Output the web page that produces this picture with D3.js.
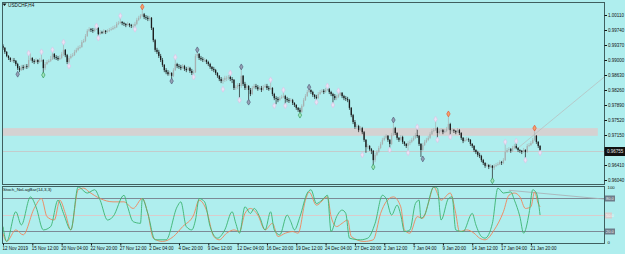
<!DOCTYPE html>
<html>
<head>
<meta charset="utf-8">
<script src="https://cdn.jsdelivr.net/npm/d3@7"></script>
<style>
  html, body { margin: 0; padding: 0; background: #afeeee; overflow: hidden; }
  svg { display: block; }
</style>
</head>
<body>
<svg id="chart"></svg>
<script>
/* ── Data: USDCHF H4, 12 Nov 2019 20:00 → 22 Jan 2020 16:00 (open = previous close) ── */
const firstOpen = 0.9935;
const closes = [
  0.9930,0.9920,0.9910,0.9905,0.9900,0.9900,0.9898,0.9890,0.9880,0.9875,
  0.9883,0.9880,0.9885,0.9883,0.9900,0.9905,0.9898,0.9895,0.9900,0.9895,
  0.9898,0.9900,0.9880,0.9890,0.9895,0.9898,0.9902,0.9915,0.9907,0.9905,
  0.9902,0.9905,0.9915,0.9925,0.9912,0.9895,0.9905,0.9910,0.9912,0.9920,
  0.9925,0.9930,0.9932,0.9944,0.9947,0.9959,0.9972,0.9976,0.9974,0.9972,
  0.9976,0.9979,0.9964,0.9969,0.9967,0.9972,0.9969,0.9972,0.9974,0.9976,
  0.9979,0.9981,0.9989,0.9991,0.9994,0.9991,0.9989,0.9986,0.9989,0.9986,
  0.9984,0.9984,0.9989,0.9999,1.0004,1.0009,1.0013,1.0006,1.0004,1.0001,
  1.0004,0.9979,0.9949,0.9925,0.9920,0.9910,0.9900,0.9888,0.9875,0.9870,
  0.9865,0.9868,0.9861,0.9875,0.9890,0.9885,0.9883,0.9880,0.9885,0.9878,
  0.9875,0.9880,0.9873,0.9868,0.9870,0.9910,0.9915,0.9905,0.9902,0.9900,
  0.9900,0.9895,0.9890,0.9883,0.9878,0.9875,0.9868,0.9861,0.9853,0.9848,
  0.9851,0.9856,0.9856,0.9858,0.9853,0.9851,0.9831,0.9833,0.9838,0.9836,
  0.9861,0.9841,0.9831,0.9836,0.9826,0.9816,0.9831,0.9836,0.9833,0.9828,
  0.9831,0.9826,0.9833,0.9836,0.9831,0.9828,0.9831,0.9816,0.9806,0.9804,
  0.9801,0.9806,0.9809,0.9811,0.9804,0.9801,0.9799,0.9801,0.9794,0.9789,
  0.9782,0.9777,0.9772,0.9787,0.9801,0.9811,0.9821,0.9826,0.9821,0.9814,
  0.9809,0.9806,0.9816,0.9821,0.9824,0.9821,0.9826,0.9828,0.9821,0.9816,
  0.9811,0.9806,0.9809,0.9814,0.9819,0.9811,0.9806,0.9804,0.9801,0.9782,
  0.9764,0.9747,0.9735,0.9737,0.9727,0.9732,0.9722,0.9703,0.9685,0.9688,
  0.9680,0.9676,0.9653,0.9666,0.9673,0.9683,0.9693,0.9703,0.9708,0.9713,
  0.9703,0.9693,0.9715,0.9732,0.9720,0.9708,0.9703,0.9710,0.9698,0.9693,
  0.9688,0.9695,0.9698,0.9703,0.9708,0.9715,0.9713,0.9693,0.9678,0.9690,
  0.9698,0.9703,0.9708,0.9717,0.9725,0.9727,0.9732,0.9720,0.9725,0.9727,
  0.9722,0.9725,0.9730,0.9742,0.9727,0.9727,0.9725,0.9722,0.9727,0.9720,
  0.9708,0.9700,0.9703,0.9705,0.9703,0.9693,0.9688,0.9678,0.9673,0.9666,
  0.9663,0.9653,0.9646,0.9639,0.9641,0.9636,0.9639,0.9634,0.9639,0.9641,
  0.9643,0.9648,0.9646,0.9653,0.9673,0.9678,0.9680,0.9676,0.9683,0.9688,
  0.9683,0.9678,0.9676,0.9673,0.9678,0.9673,0.9688,0.9690,0.9695,0.9703,
  0.9713,0.9698,0.9688,0.9676
];
const highs = [
  0.9939,0.9932,0.9922,0.9912,0.9907,0.9905,0.9905,0.9900,0.9893,0.9885,
  0.9888,0.9888,0.9890,0.9890,0.9912,0.9917,0.9907,0.9902,0.9905,0.9902,
  0.9905,0.9915,0.9902,0.9895,0.9900,0.9902,0.9910,0.9920,0.9917,0.9912,
  0.9910,0.9912,0.9920,0.9939,0.9927,0.9915,0.9910,0.9915,0.9917,0.9925,
  0.9930,0.9935,0.9937,0.9949,0.9952,0.9964,0.9976,0.9981,0.9979,0.9979,
  0.9979,0.9981,0.9981,0.9974,0.9972,0.9976,0.9974,0.9976,0.9979,0.9981,
  0.9984,0.9986,0.9994,0.9996,1.0004,0.9996,0.9994,0.9991,0.9994,0.9991,
  0.9989,0.9989,0.9994,1.0004,1.0009,1.0013,1.0026,1.0016,1.0011,1.0009,
  1.0009,1.0006,0.9981,0.9952,0.9930,0.9925,0.9915,0.9905,0.9890,0.9880,
  0.9875,0.9873,0.9870,0.9880,0.9902,0.9893,0.9890,0.9888,0.9890,0.9888,
  0.9883,0.9885,0.9883,0.9878,0.9875,0.9915,0.9920,0.9917,0.9910,0.9907,
  0.9905,0.9902,0.9898,0.9893,0.9885,0.9883,0.9878,0.9870,0.9863,0.9858,
  0.9856,0.9861,0.9861,0.9863,0.9863,0.9858,0.9853,0.9838,0.9843,0.9843,
  0.9878,0.9863,0.9846,0.9841,0.9838,0.9831,0.9836,0.9841,0.9841,0.9838,
  0.9836,0.9836,0.9838,0.9841,0.9841,0.9836,0.9846,0.9833,0.9819,0.9811,
  0.9809,0.9811,0.9814,0.9821,0.9814,0.9809,0.9806,0.9806,0.9804,0.9796,
  0.9791,0.9784,0.9782,0.9791,0.9806,0.9816,0.9826,0.9828,0.9828,0.9824,
  0.9816,0.9814,0.9821,0.9826,0.9828,0.9828,0.9831,0.9831,0.9831,0.9824,
  0.9819,0.9816,0.9814,0.9819,0.9821,0.9821,0.9814,0.9811,0.9809,0.9804,
  0.9784,0.9767,0.9752,0.9742,0.9740,0.9737,0.9735,0.9725,0.9705,0.9693,
  0.9690,0.9683,0.9678,0.9671,0.9678,0.9688,0.9698,0.9708,0.9713,0.9717,
  0.9715,0.9705,0.9720,0.9747,0.9735,0.9722,0.9710,0.9715,0.9713,0.9700,
  0.9695,0.9700,0.9703,0.9708,0.9713,0.9720,0.9730,0.9715,0.9695,0.9695,
  0.9703,0.9708,0.9713,0.9722,0.9730,0.9732,0.9750,0.9735,0.9730,0.9732,
  0.9730,0.9730,0.9735,0.9762,0.9745,0.9732,0.9730,0.9727,0.9732,0.9730,
  0.9722,0.9710,0.9708,0.9710,0.9708,0.9705,0.9695,0.9690,0.9680,0.9676,
  0.9671,0.9666,0.9656,0.9648,0.9646,0.9643,0.9643,0.9641,0.9643,0.9646,
  0.9648,0.9653,0.9651,0.9658,0.9693,0.9683,0.9685,0.9683,0.9688,0.9693,
  0.9695,0.9685,0.9680,0.9678,0.9683,0.9680,0.9693,0.9695,0.9700,0.9708,
  0.9727,0.9715,0.9700,0.9690
];
const lows = [
  0.9925,0.9915,0.9907,0.9900,0.9895,0.9895,0.9893,0.9885,0.9875,0.9870,
  0.9873,0.9875,0.9878,0.9878,0.9880,0.9898,0.9893,0.9890,0.9893,0.9890,
  0.9893,0.9895,0.9868,0.9875,0.9888,0.9893,0.9895,0.9900,0.9902,0.9900,
  0.9898,0.9900,0.9902,0.9910,0.9907,0.9890,0.9890,0.9902,0.9907,0.9910,
  0.9917,0.9922,0.9927,0.9930,0.9942,0.9944,0.9957,0.9969,0.9969,0.9967,
  0.9969,0.9974,0.9959,0.9962,0.9964,0.9964,0.9964,0.9967,0.9969,0.9972,
  0.9974,0.9976,0.9979,0.9986,0.9989,0.9986,0.9984,0.9981,0.9984,0.9981,
  0.9979,0.9979,0.9981,0.9986,0.9996,1.0001,1.0006,1.0001,0.9999,0.9996,
  0.9996,0.9974,0.9944,0.9920,0.9915,0.9905,0.9895,0.9883,0.9870,0.9865,
  0.9861,0.9861,0.9853,0.9858,0.9873,0.9880,0.9878,0.9875,0.9878,0.9873,
  0.9870,0.9873,0.9868,0.9863,0.9863,0.9868,0.9905,0.9900,0.9898,0.9895,
  0.9895,0.9890,0.9885,0.9878,0.9873,0.9870,0.9863,0.9856,0.9848,0.9843,
  0.9841,0.9846,0.9848,0.9851,0.9848,0.9843,0.9826,0.9826,0.9828,0.9806,
  0.9831,0.9836,0.9826,0.9826,0.9801,0.9811,0.9814,0.9828,0.9828,0.9824,
  0.9826,0.9821,0.9824,0.9831,0.9826,0.9824,0.9826,0.9811,0.9801,0.9791,
  0.9796,0.9799,0.9804,0.9806,0.9791,0.9796,0.9794,0.9796,0.9789,0.9784,
  0.9777,0.9772,0.9769,0.9769,0.9784,0.9799,0.9809,0.9819,0.9816,0.9809,
  0.9804,0.9801,0.9804,0.9814,0.9819,0.9816,0.9819,0.9824,0.9816,0.9811,
  0.9794,0.9801,0.9801,0.9806,0.9811,0.9806,0.9801,0.9799,0.9796,0.9777,
  0.9759,0.9742,0.9730,0.9730,0.9722,0.9725,0.9717,0.9698,0.9671,0.9680,
  0.9676,0.9668,0.9641,0.9648,0.9663,0.9671,0.9680,0.9690,0.9700,0.9705,
  0.9698,0.9683,0.9690,0.9713,0.9715,0.9703,0.9698,0.9700,0.9693,0.9688,
  0.9683,0.9676,0.9690,0.9695,0.9700,0.9705,0.9708,0.9688,0.9661,0.9676,
  0.9688,0.9695,0.9700,0.9705,0.9715,0.9722,0.9725,0.9708,0.9717,0.9722,
  0.9717,0.9720,0.9722,0.9727,0.9715,0.9722,0.9720,0.9717,0.9720,0.9715,
  0.9703,0.9695,0.9698,0.9700,0.9698,0.9688,0.9683,0.9673,0.9668,0.9661,
  0.9658,0.9648,0.9641,0.9634,0.9636,0.9631,0.9634,0.9606,0.9629,0.9636,
  0.9639,0.9641,0.9641,0.9643,0.9651,0.9671,0.9676,0.9671,0.9673,0.9680,
  0.9680,0.9673,0.9671,0.9668,0.9671,0.9658,0.9671,0.9685,0.9688,0.9693,
  0.9700,0.9693,0.9683,0.9673
];

/* fractal marks: [bar, price, kind]  p = pale, d = dark, g = green, r = red */
const fractals = [
  [8,0.9865,'d'],[14,0.9917,'p'],[21,0.9920,'p'],[22,0.9863,'g'],[27,0.9925,'p'],
  [33,0.9944,'p'],[36,0.9885,'p'],[51,0.9984,'p'],[52,0.9954,'p'],[64,1.0009,'p'],
  [72,0.9976,'p'],[76,1.0031,'r'],[92,0.9848,'d'],[94,0.9907,'p'],[104,0.9858,'p'],
  [106,0.9925,'d'],[120,0.9828,'p'],[124,0.9868,'p'],[129,0.9801,'p'],[130,0.9883,'d'],
  [134,0.9796,'d'],[146,0.9851,'p'],[148,0.9787,'p'],[153,0.9826,'p'],[154,0.9787,'p'],
  [162,0.9764,'g'],[167,0.9833,'d'],[171,0.9796,'p'],[177,0.9836,'p'],[180,0.9789,'p'],
  [183,0.9824,'p'],[196,0.9666,'p'],[202,0.9636,'g'],[211,0.9678,'p'],[213,0.9752,'d'],
  [221,0.9671,'p'],[226,0.9735,'p'],[229,0.9656,'d'],[236,0.9754,'p'],[237,0.9703,'p'],
  [243,0.9767,'r'],[244,0.9710,'p'],[267,0.9602,'g'],[274,0.9698,'p'],[280,0.9700,'p'],
  [285,0.9653,'p'],[290,0.9732,'r'],[293,0.9671,'p']
];

/* Stoch_NoLagBar(14,3,3): [bar, value] */
const stochMain = [
  [0,28],[2,1],[7,55],[10,31],[15,82],[18,64],[22,22],[26,28],[30,76],[33,52],
  [37,22],[41,100],[46,89],[50,95],[53,76],[57,40],[60,46],[66,85],[68,64],[71,37],
  [75,34],[76,79],[79,52],[83,4],[89,4],[95,64],[97,73],[100,28],[103,22],[105,40],
  [107,79],[110,73],[113,28],[117,7],[121,22],[125,55],[127,34],[129,16],[132,64],[135,52],
  [137,61],[140,46],[143,22],[146,55],[148,22],[151,13],[155,49],[157,37],[159,22],[162,46],
  [166,89],[168,95],[171,70],[174,76],[177,85],[179,19],[182,46],[185,58],[187,52],[189,7],
  [195,4],[199,7],[203,34],[207,85],[209,79],[212,49],[215,67],[217,49],[219,19],[222,22],
  [225,70],[227,76],[228,43],[230,49],[235,100],[237,98],[239,40],[243,79],[245,82],[247,22],
  [251,19],[256,52],[258,31],[261,10],[263,7],[267,34],[270,98],[273,89],[277,91],[279,76],
  [282,46],[284,16],[287,52],[289,95],[291,89],[293,49]
];
const stochSignal = [
  [0,16],[2,1],[7,22],[11,13],[17,61],[21,79],[24,46],[28,40],[31,76],[34,52],
  [37,22],[41,95],[44,98],[47,91],[53,79],[60,73],[66,73],[71,61],[76,79],[79,52],
  [82,7],[87,1],[93,10],[98,28],[104,49],[107,76],[111,58],[115,10],[118,4],[122,16],
  [126,22],[129,19],[132,52],[135,61],[139,49],[143,22],[147,34],[150,10],[154,16],[158,19],
  [161,16],[165,76],[167,91],[171,67],[177,82],[179,46],[182,28],[185,34],[188,40],[190,10],
  [197,1],[202,4],[206,52],[209,73],[213,82],[217,64],[219,22],[222,16],[226,46],[229,43],
  [232,70],[235,100],[239,76],[244,89],[247,52],[249,19],[253,22],[257,16],[260,7],[263,4],
  [268,22],[273,55],[276,85],[279,89],[282,82],[285,61],[288,64],[290,91],[292,70],[293,64]
];
const stochLevels = [80, 50, 20];

const priceTicks = [1.00110,0.99740,0.99370,0.99000,0.98630,0.98260,0.97890,0.97520,0.97150,0.96780,0.96410,0.96040];
const timeLabels = ['12 Nov 2019','15 Nov 12:00','20 Nov 04:00','22 Nov 20:00','27 Nov 12:00','2 Dec 04:00',
  '4 Dec 20:00','9 Dec 12:00','12 Dec 04:00','16 Dec 20:00','19 Dec 12:00','24 Dec 04:00','27 Dec 20:00',
  '2 Jan 12:00','7 Jan 04:00','9 Jan 20:00','14 Jan 12:00','17 Jan 04:00','21 Jan 20:00'];
const timeLabelBars = timeLabels.map((_, k) => k * 16);

const zonePrices = [0.9713, 0.9732];
const zoneBars = [-2, 324.5];
const bidPrice = 0.96755;
const trendMain = [[281, 0.9683], [328, 0.9858]];
const trendStoch = [[276, 94], [328, 78]];

/* ── Layout ── */
const W = 625, H = 254;
const main = { l: 2, t: 2, r: 604, b: 184 };
const sub = { l: 2, t: 186, r: 604, b: 243 };
const FONT = 'Liberation Sans, Arial, sans-serif';
const C = { bg: '#afeeee', frame: '#3f5f5f', text: '#111', bull: '#a7b1b1', bear: '#1c1c1c' };

const svg = d3.select('#chart').attr('width', W).attr('height', H);
svg.append('rect').attr('width', W).attr('height', H).attr('fill', C.bg);

const defs = svg.append('defs');
defs.append('clipPath').attr('id', 'clipMain').append('rect')
  .attr('x', main.l).attr('y', main.t).attr('width', main.r - main.l).attr('height', main.b - main.t);
defs.append('clipPath').attr('id', 'clipSub').append('rect')
  .attr('x', sub.l).attr('y', sub.t).attr('width', sub.r - sub.l).attr('height', sub.b - sub.t);

/* ── Scales ── */
const x = d3.scaleLinear().domain([0, 293]).range([3, 3 + 293 * 1.833]);
const y = d3.scaleLinear().domain([0.96040, 1.00110]).range([180, 15]);
const ys = d3.scaleLinear().domain([0, 100]).range([242, 187]);

/* ── Main panel ── */
const gm = svg.append('g').attr('clip-path', 'url(#clipMain)');

gm.append('rect')
  .attr('x', x(zoneBars[0])).attr('width', x(zoneBars[1]) - x(zoneBars[0]))
  .attr('y', y(zonePrices[1])).attr('height', y(zonePrices[0]) - y(zonePrices[1]))
  .attr('fill', '#d5d2d2');

gm.append('line')
  .attr('x1', main.l).attr('x2', main.r)
  .attr('y1', Math.round(y(bidPrice)) + 0.5).attr('y2', Math.round(y(bidPrice)) + 0.5)
  .attr('stroke', '#c3cccc').attr('stroke-width', 1);

gm.append('line')
  .attr('x1', x(trendMain[0][0])).attr('y1', y(trendMain[0][1]))
  .attr('x2', x(trendMain[1][0])).attr('y2', y(trendMain[1][1]))
  .attr('stroke', '#b8c2c2').attr('stroke-width', 0.8);

const bars = closes.map((c, i) => ({ i, o: i ? closes[i - 1] : firstOpen, h: highs[i], l: lows[i], c }));

gm.selectAll('line.wick')
  .data(bars)
  .join('line')
  .attr('class', 'wick')
  .attr('x1', (d) => x(d.i)).attr('x2', (d) => x(d.i))
  .attr('y1', (d) => y(d.h)).attr('y2', (d) => y(d.l))
  .attr('stroke', (d) => (d.c < d.o ? C.bear : C.bull))
  .attr('stroke-width', 0.7);

gm.selectAll('rect.body')
  .data(bars)
  .join('rect')
  .attr('class', 'body')
  .attr('x', (d) => x(d.i) - 0.65)
  .attr('width', 1.3)
  .attr('y', (d) => y(Math.max(d.o, d.c)))
  .attr('height', (d) => Math.max(0.7, Math.abs(y(d.o) - y(d.c))))
  .attr('fill', (d) => (d.c < d.o ? C.bear : C.bull));

const fracColor = { p: '#d9c6e6', d: '#55617c', g: '#34a062', r: '#e2553a' };
const fracFill = { p: '#ece2f3', d: '#96a0b4', g: '#a6e2bc', r: '#f5a468' };
gm.selectAll('path.frac')
  .data(fractals)
  .join('path')
  .attr('class', 'frac')
  .attr('transform', (d) => `translate(${x(d[0])},${y(d[1])})`)
  .attr('d', d3.symbol().type(d3.symbolDiamond).size(10))
  .attr('fill', (d) => fracFill[d[2]])
  .attr('stroke', (d) => fracColor[d[2]])
  .attr('stroke-width', 0.7);

/* title */
svg.append('path').attr('d', 'M2.5,3.5 L6.5,3.5 L4.5,6 Z').attr('fill', C.text);
svg.append('text')
  .attr('x', 8).attr('y', 7)
  .attr('font-family', FONT).attr('font-size', 4.7).attr('fill', C.text)
  .text('USDCHF,H4');

/* ── Indicator panel ── */
const gs = svg.append('g').attr('clip-path', 'url(#clipSub)');

gs.selectAll('line.level')
  .data(stochLevels)
  .join('line')
  .attr('class', 'level')
  .attr('x1', sub.l).attr('x2', sub.r)
  .attr('y1', (d) => Math.round(ys(d)) + 0.5).attr('y2', (d) => Math.round(ys(d)) + 0.5)
  .attr('stroke', (d) => (d === 50 ? '#d9cccc' : '#7d8a96'))
  .attr('stroke-width', 1);

gs.append('line')
  .attr('x1', x(trendStoch[0][0])).attr('y1', ys(trendStoch[0][1]))
  .attr('x2', x(trendStoch[1][0])).attr('y2', ys(trendStoch[1][1]))
  .attr('stroke', '#a9b3b8').attr('stroke-width', 0.9);

const stochLine = d3.line().x((d) => x(d[0])).y((d) => ys(d[1])).curve(d3.curveMonotoneX);
gs.append('path').datum(stochSignal).attr('d', stochLine)
  .attr('fill', 'none').attr('stroke', '#f0855a').attr('stroke-width', 0.9);
gs.append('path').datum(stochMain).attr('d', stochLine)
  .attr('fill', 'none').attr('stroke', '#3cb371').attr('stroke-width', 0.9);

svg.append('text')
  .attr('x', 3).attr('y', 191)
  .attr('font-family', FONT).attr('font-size', 4.4).attr('fill', C.text)
  .text('Stoch_NoLagBar(14,3,3)');

/* ── Frames ── */
[main, sub].forEach((p) => {
  svg.append('rect')
    .attr('x', p.l + 0.5).attr('y', p.t + 0.5)
    .attr('width', p.r - p.l).attr('height', p.b - p.t)
    .attr('fill', 'none').attr('stroke', C.frame).attr('stroke-width', 1);
});

/* ── Price axis ── */
svg.append('g')
  .attr('transform', `translate(${main.r + 0.5},0)`)
  .call(d3.axisRight(y).tickValues(priceTicks).tickSize(2.5).tickPadding(1).tickFormat(d3.format('.5f')))
  .call((a) => a.select('.domain').remove())
  .call((a) => a.selectAll('line').attr('stroke', C.text))
  .call((a) => a.selectAll('text').attr('font-family', FONT).attr('font-size', 4.5).attr('fill', C.text));

/* bid label */
const by = Math.round(y(bidPrice)) + 0.5;
svg.append('rect')
  .attr('x', main.r + 1).attr('y', by - 4).attr('width', 20).attr('height', 8)
  .attr('fill', '#111').attr('stroke', '#111');
svg.append('text')
  .attr('x', main.r + 3).attr('y', by + 1.7)
  .attr('font-family', FONT).attr('font-size', 4.5).attr('fill', '#e8e8e8')
  .text(d3.format('.5f')(bidPrice));

/* ── Indicator scale ── */
svg.append('g')
  .attr('transform', `translate(${sub.r + 0.5},0)`)
  .call(d3.axisRight(ys).tickValues([100, 0]).tickSize(0).tickPadding(3).tickFormat(d3.format('d')))
  .call((a) => a.select('.domain').remove())
  .call((a) => a.selectAll('text').attr('font-family', FONT).attr('font-size', 4.3).attr('fill', C.text));

const lvl = svg.append('g');
stochLevels.forEach((v) => {
  const yy = Math.round(ys(v)) + 0.5;
  const dark = v !== 50;
  lvl.append('rect')
    .attr('x', sub.r + 1).attr('y', yy - 3).attr('width', dark ? 10 : 7).attr('height', 6)
    .attr('fill', dark ? '#6f7c8a' : '#d9cccc');
  lvl.append('text')
    .attr('x', sub.r + 2).attr('y', yy + 1.5)
    .attr('font-family', FONT).attr('font-size', 4).attr('fill', dark ? '#f2f2f2' : '#f7f7f7')
    .text(d3.format('.1f')(v));
});

/* ── Time axis ── */
svg.append('g')
  .attr('transform', `translate(0,${sub.b + 0.5})`)
  .call(d3.axisBottom(x).tickValues(timeLabelBars).tickSize(2).tickPadding(1)
    .tickFormat((d, k) => timeLabels[k]))
  .call((a) => a.select('.domain').remove())
  .call((a) => a.selectAll('line').attr('stroke', C.text))
  .call((a) => a.selectAll('text')
    .attr('text-anchor', 'start').attr('dx', -1)
    .attr('font-family', FONT).attr('font-size', 4.5).attr('fill', C.text));
</script>
</body>
</html>
